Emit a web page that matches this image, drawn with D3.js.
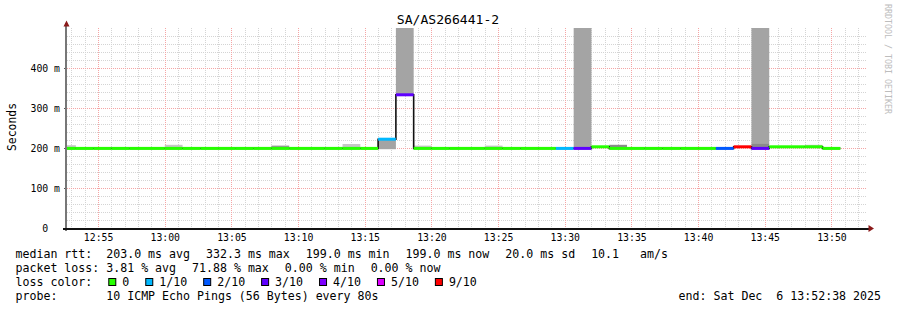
<!DOCTYPE html>
<html>
<head>
<meta charset="utf-8">
<script src="https://cdn.jsdelivr.net/npm/d3@7"></script>
<style>
body { margin: 0; background: #fff; }
svg text { font-family: "DejaVu Sans Mono", monospace; white-space: pre; }
</style>
</head>
<body>
<svg id="chart" width="897" height="310" xml:space="preserve"></svg>
<script>
// ---- data ----
const title = "SA/AS266441-2";
const stepSeconds = 80;
// median rtt (ms) for each 80s step, first step starts 12:52:00
const medianMs = [
  199, 199, 199, 199, 199, 199, 199, 199, 199, 199,
  199, 199, 199, 199, 199, 199, 199, 199, 222, 333,
  199, 199, 199, 199, 199, 199, 199, 199, 199, 199,
  203, 199, 199, 199, 199, 199, 199, 199, 203, 199,
  203, 203, 203, 199
];
// lost pings out of 10 for each step
const lostPings = [
  0, 0, 0, 0, 0, 0, 0, 0, 0, 0,
  0, 0, 0, 0, 0, 0, 0, 0, 1, 3,
  0, 0, 0, 0, 0, 0, 0, 0, 1, 3,
  0, 0, 0, 0, 0, 0, 0, 2, 9, 3,
  0, 0, 0, 0
];
// smoke bands (ping spread): step index, low ms, high ms, pings in band
const smokeStep  = [0,   6,   12,  16,  18,  19,  20,  24,  29,  31,  39,  39,  42];
const smokeLow   = [199, 199, 199, 199, 197, 333, 199, 199, 200, 199, 199, 212, 203];
const smokeHigh  = [207, 208, 206, 210, 222, 500, 206, 206, 500, 208, 212, 500, 208];
const smokePings = [1,   1,   3,   1,   2,   2,   1,   1,   2,   4,   4,   2,   1];

const yLabels = [0, 100, 200, 300, 400];
const lossLabels = ["0", "1/10", "2/10", "3/10", "4/10", "5/10", "9/10"];
const lossColors = ["#26ff00", "#00b8ff", "#0059ff", "#5e00ff", "#7e00ff", "#dd00ff", "#ff0000"];
const rttNames = ["avg", "max", "min", "now", "sd"];
const rttValues = [203.0, 332.3, 199.0, 199.0, 20.0];
const amsValue = 10.1;
const lossNames = ["avg", "max", "min", "now"];
const lossValues = [3.81, 71.88, 0.00, 0.00];
const probeText = "10 ICMP Echo Pings (56 Bytes) every 80s";
const endText = "end: Sat Dec  6 13:52:38 2025";

window.addEventListener("load", main);

function main()
{
    const svg = d3.select("svg#chart");
    const left = 67, right = 867, top = 28, bottom = 228;

    const base = new Date(2025, 11, 6, 12, 52, 0);
    const stepTime = i => new Date(base.getTime() + i * stepSeconds * 1000);
    const x = d3.scaleTime()
        .domain([new Date(2025, 11, 6, 12, 52, 40), new Date(2025, 11, 6, 13, 52, 40)])
        .range([left, right]);
    const y = d3.scaleLinear().domain([0, 500]).range([bottom, top]);
    const crisp = v => Math.round(v) + 0.5;

    // loss count -> colour index (>5 lost goes to the 9/10 colour)
    const lossColor = n => lossColors[Math.min(n, 6)];
    const smokeColor = d3.scaleLinear().domain([1, 2, 4]).range(["#c6c6c6", "#a4a4a4", "#8a8a8a"]);

    svg.append("defs").append("clipPath").attr("id", "plot")
        .append("rect").attr("x", left).attr("y", top).attr("width", right - left).attr("height", bottom - top);

    // grid
    const grid = svg.append("g");
    const minutes = d3.timeMinute.range(x.domain()[0], x.domain()[1]);
    const minorV = minutes.filter(d => d.getMinutes() % 5 !== 0);
    const majorV = minutes.filter(d => d.getMinutes() % 5 === 0);
    const minorH = d3.range(20, 500, 20).filter(v => v % 100 !== 0);
    const majorH = [100, 200, 300, 400];
    const minorCol = "#d4d4d4", majorCol = "#f5a5a5";

    grid.selectAll("line.minv").data(minorV).join("line")
        .attr("x1", d => crisp(x(d))).attr("x2", d => crisp(x(d)))
        .attr("y1", top).attr("y2", bottom)
        .attr("stroke", minorCol).attr("stroke-dasharray", "1,1");
    grid.selectAll("line.minh").data(minorH).join("line")
        .attr("x1", left).attr("x2", right)
        .attr("y1", d => crisp(y(d))).attr("y2", d => crisp(y(d)))
        .attr("stroke", minorCol).attr("stroke-dasharray", "1,1");
    grid.selectAll("line.majv").data(majorV).join("line")
        .attr("x1", d => crisp(x(d))).attr("x2", d => crisp(x(d)))
        .attr("y1", top).attr("y2", bottom)
        .attr("stroke", majorCol).attr("stroke-dasharray", "1,1");
    grid.selectAll("line.majh").data(majorH).join("line")
        .attr("x1", left).attr("x2", right)
        .attr("y1", d => crisp(y(d))).attr("y2", d => crisp(y(d)))
        .attr("stroke", majorCol).attr("stroke-dasharray", "1,1");

    const plot = svg.append("g").attr("clip-path", "url(#plot)");

    // smoke
    plot.selectAll("rect.smoke").data(smokeStep).join("rect")
        .attr("x", (d, i) => x(stepTime(d)))
        .attr("width", (d, i) => x(stepTime(d + 1)) - x(stepTime(d)))
        .attr("y", (d, i) => y(smokeHigh[i]))
        .attr("height", (d, i) => y(smokeLow[i]) - y(smokeHigh[i]))
        .attr("fill", (d, i) => smokeColor(smokePings[i]));

    // median step line (thin dark)
    const pts = medianMs.map((v, i) => [stepTime(i), v]);
    pts.push([stepTime(medianMs.length), medianMs[medianMs.length - 1]]);
    plot.append("path")
        .attr("d", d3.line().x(d => x(d[0])).y(d => y(d[1])).curve(d3.curveStepAfter)(pts))
        .attr("fill", "none").attr("stroke", "#111").attr("stroke-width", 1.6);

    // median coloured by loss
    plot.selectAll("line.med").data(medianMs).join("line")
        .attr("x1", (d, i) => x(stepTime(i))).attr("x2", (d, i) => x(stepTime(i + 1)))
        .attr("y1", d => y(d)).attr("y2", d => y(d))
        .attr("stroke", (d, i) => lossColor(lostPings[i])).attr("stroke-width", 3);

    // axes
    const yAxis = svg.append("g").attr("transform", `translate(${left},0)`)
        .call(d3.axisLeft(y).tickValues(yLabels).tickSize(3).tickPadding(4)
            .tickFormat(d => d === 0 ? "0  " : d + " m"));
    yAxis.select(".domain").remove();
    yAxis.selectAll("text").attr("font-size", "9.8px").attr("fill", "#000")
        .attr("font-family", "DejaVu Sans Mono");
    yAxis.selectAll("line").attr("stroke", "#555");

    const xAxis = svg.append("g").attr("transform", `translate(0,${bottom})`)
        .call(d3.axisBottom(x).ticks(d3.timeMinute.every(5)).tickSize(2).tickPadding(4)
            .tickFormat(d3.timeFormat("%H:%M")));
    xAxis.select(".domain").remove();
    xAxis.selectAll("text").attr("font-size", "9.8px").attr("fill", "#000")
        .attr("font-family", "DejaVu Sans Mono");
    xAxis.selectAll("line").attr("stroke", majorCol);

    svg.append("line").attr("x1", 66).attr("x2", 66).attr("y1", 231).attr("y2", 23)
        .attr("stroke", "#777").attr("stroke-width", 2);
    svg.append("line").attr("x1", 63).attr("x2", 869).attr("y1", 229).attr("y2", 229)
        .attr("stroke", "#111").attr("stroke-width", 2);
    svg.append("path").attr("d", "M63.5,26.5 L69.5,26.5 L66.5,20.5 Z").attr("fill", "#8b1a1a");
    svg.append("path").attr("d", "M868.5,225 L868.5,232 L874,228.5 Z").attr("fill", "#8b1a1a");

    // titles
    svg.append("text").text(title).attr("x", 448).attr("y", 24)
        .attr("text-anchor", "middle").attr("font-size", "13.1px").attr("fill", "#000");
    svg.append("text").text("Seconds")
        .attr("transform", "translate(15.5,127) rotate(-90)")
        .attr("text-anchor", "middle").attr("font-size", "11.4px").attr("fill", "#000");
    svg.append("text").text("RRDTOOL / TOBI OETIKER")
        .attr("transform", "translate(884.5,4) rotate(90)")
        .attr("font-size", "8.3px").attr("fill", "#bdbdbd");

    // legend
    const fs = "11.6px", gap = 16;
    const rows = [258, 272, 286, 300];
    function row(yy, items)
    {
        let cx = 15.5;
        items.forEach(it => {
            if (it.box) {
                svg.append("rect").attr("x", cx + 0.5).attr("y", yy - 7.5)
                    .attr("width", 7).attr("height", 7)
                    .attr("fill", it.box).attr("stroke", "#000").attr("stroke-width", 1);
                const t = svg.append("text").text(it.text).attr("x", cx + 14).attr("y", yy)
                    .attr("font-size", fs).attr("fill", "#000");
                cx += 14 + t.node().getComputedTextLength() + gap;
            } else {
                const t = svg.append("text").text(it.text).attr("x", cx).attr("y", yy)
                    .attr("font-size", fs).attr("fill", "#000");
                cx += t.node().getComputedTextLength() + gap;
            }
        });
    }
    const f1 = d3.format(".1f"), f2 = d3.format(".2f");
    const rttItems = rttValues.map((v, i) => ({text: f1(v) + " ms " + rttNames[i]}));
    rttItems[0].text = "median rtt:  " + rttItems[0].text;
    rttItems.push({text: f1(amsValue) + "   am/s"});
    row(rows[0], rttItems);

    const lossItems = lossValues.map((v, i) => ({text: f2(v) + " % " + lossNames[i]}));
    lossItems[0].text = "packet loss: " + lossItems[0].text;
    row(rows[1], lossItems);

    row(rows[2], [{text: "loss color:"}].concat(lossLabels.map((l, i) => ({text: l, box: lossColors[i]}))));

    svg.append("text").text("probe:       " + probeText).attr("x", 15.5).attr("y", rows[3])
        .attr("font-size", fs).attr("fill", "#000");
    svg.append("text").text(endText).attr("x", 881).attr("y", rows[3])
        .attr("text-anchor", "end").attr("font-size", fs).attr("fill", "#000");
}
</script>
</body>
</html>
